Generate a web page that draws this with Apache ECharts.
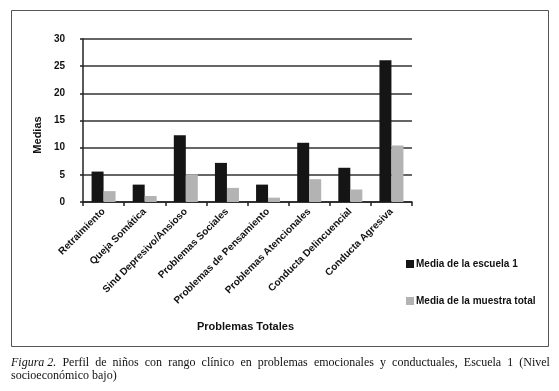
<!DOCTYPE html>
<html>
<head>
<meta charset="utf-8">
<script src="https://cdn.jsdelivr.net/npm/echarts@6/dist/echarts.min.js"></script>
<style>
html,body{margin:0;padding:0;background:#fff;}
#chart{width:559px;height:391px;}
</style>
</head>
<body>
<div id="chart"></div>
<script>
const categories = ["Retraimiento","Queja Somática","Sind Depresivo/Ansioso","Problemas Sociales","Problemas de Pensamiento","Problemas Atencionales","Conducta Delincuencial","Conducta Agresiva"];
const escuela1 = [5.6, 3.2, 12.3, 7.2, 3.2, 10.9, 6.3, 26.1];
const muestraTotal = [2.0, 1.1, 5.1, 2.6, 0.8, 4.2, 2.3, 10.4];
const seriesNames = ["Media de la escuela 1","Media de la muestra total"];
const yTicks = [0, 5, 10, 15, 20, 25, 30];
const captionLine1Words = ["Perfil","de","niños","con","rango","clínico","en","problemas","emocionales","y","conductuales,","Escuela","1","(Nivel"];
const captionLine2 = "socioeconómico bajo)";

const chart = echarts.init(document.getElementById('chart'));

// justify caption line 1 across the frame width
const serif = "'Liberation Serif','Times New Roman',serif";
const capFont = "12px " + serif;
const lead = "Figura 2.";
const leadFont = "italic 12px " + serif;
const cv = document.createElement('canvas').getContext('2d');
cv.font = leadFont;
const leadW = cv.measureText(lead).width;
cv.font = capFont;
const wordWs = captionLine1Words.map(w => cv.measureText(w).width);
const x0 = 11, x1 = 550;
const totalW = leadW + wordWs.reduce((a,b)=>a+b,0);
const gap = (x1 - x0 - totalW) / captionLine1Words.length;
const capEls = [{type:'text', left: x0, top: 357, style:{text: lead, font: leadFont, fill:'#111'}}];
let cx = x0 + leadW + gap;
captionLine1Words.forEach((w,i)=>{
  capEls.push({type:'text', left: Math.round(cx*10)/10, top: 357, style:{text:w, font:capFont, fill:'#111'}});
  cx += wordWs[i] + gap;
});
capEls.push({type:'text', left: x0, top: 370, style:{text: captionLine2, font: capFont, fill:'#111'}});

chart.setOption({
  animation: false,
  backgroundColor: '#fff',
  textStyle: {fontFamily: "'Liberation Sans', Arial, sans-serif"},
  grid: {left: 83, right: 147, top: 39, bottom: 189, containLabel: false},
  legend: {
    orient: 'vertical', left: 401, top: 253,
    itemWidth: 8, itemHeight: 8, itemGap: 25,
    icon: 'rect',
    textStyle: {fontSize: 10, fontWeight: 'bold', color: '#111', lineHeight: 12, padding: [0,0,0,-3]},
    data: seriesNames
  },
  xAxis: {
    type: 'category',
    data: categories,
    name: 'Problemas Totales',
    nameLocation: 'middle',
    nameGap: 119,
    nameTextStyle: {fontSize: 11, fontWeight: 'bold', color: '#111', verticalAlign: 'top', padding: [0,4,0,0]},
    axisLine: {lineStyle: {color: '#222', width: 1.5}},
    axisTick: {show: true, length: 4, lineStyle: {color: '#222', width: 1.5}},
    axisLabel: {interval: 0, rotate: 45, fontSize: 10, fontWeight: 'bold', color: '#111', margin: 8}
  },
  yAxis: {
    type: 'value',
    min: 0, max: 30, interval: 5,
    axisLine: {show: true, lineStyle: {color: '#222', width: 1.5}},
    axisTick: {show: true, length: 3, lineStyle: {color: '#222', width: 1.5}},
    axisLabel: {fontSize: 10, fontWeight: 'bold', color: '#111', margin: 18,
      formatter: v => yTicks.includes(v) ? String(v) : ''},
    splitLine: {lineStyle: {color: '#333', width: 1.5}}
  },
  series: [
    {name: seriesNames[0], type: 'bar', data: escuela1, barWidth: 12, barGap: '0%',
     itemStyle: {color: '#151515'}},
    {name: seriesNames[1], type: 'bar', data: muestraTotal, barWidth: 12, barGap: '0%',
     itemStyle: {color: '#b3b3b3'}}
  ],
  graphic: [
    {type: 'rect', shape: {x: 11.5, y: 10.5, width: 537, height: 336},
     style: {fill: 'none', stroke: '#555', lineWidth: 1}, silent: true},
    {type: 'text', x: 38, y: 135, rotation: Math.PI / 2,
     style: {text: 'Medias', align: 'center', verticalAlign: 'middle',
       font: "bold 11px 'Liberation Sans', Arial, sans-serif", fill: '#111'}}
  ].concat(capEls)
});
</script>
</body>
</html>
